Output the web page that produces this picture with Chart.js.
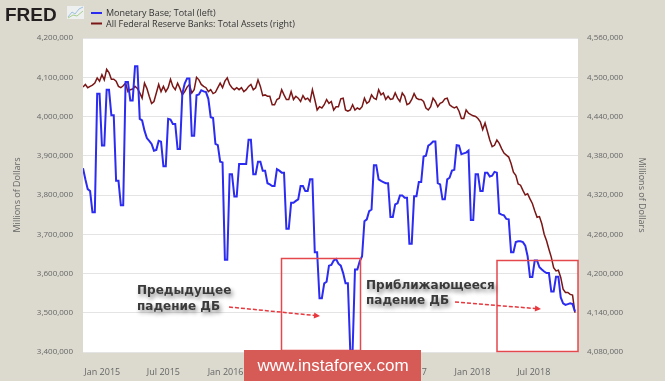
<!DOCTYPE html>
<html>
<head>
<meta charset="utf-8">
<script src="https://cdn.jsdelivr.net/npm/chart.js@4.4.0/dist/chart.umd.min.js"></script>
<style>
  body { margin: 0; background: #dcdacf; }
  #wrap { width: 665px; height: 381px; }
</style>
</head>
<body>
<div id="wrap"><canvas id="fredChart" width="665" height="381"></canvas></div>
<script>
// weekly observations, week 0 = 2014-11-05
const startDate = '2014-11-05';

// Monetary Base; Total, billions of dollars (axis shows millions)
const baseValues = [
  3868, 3840, 3815, 3810, 3756, 3756, 4058, 4058, 3926, 3926,
  4068, 4068, 4003, 4003, 3836, 3836, 3774, 3774, 4088, 4088,
  4041, 4041, 4128, 4128, 3994, 3990, 3964, 3945, 3938, 3930,
  3913, 3915, 3938, 3936, 3873, 3873, 3994, 3992, 3981, 3981,
  3917, 3917, 4058, 4084, 4097, 4097, 3951, 3951, 4054, 4056,
  4067, 4064, 4062, 4045, 3998, 3996, 3930, 3927, 3885, 3883,
  3635, 3635, 3853, 3853, 3796, 3796, 3879, 3879, 3879, 3879,
  3941, 3941, 3853, 3853, 3885, 3885, 3862, 3862, 3830, 3827,
  3823, 3823, 3866, 3862, 3857, 3857, 3714, 3714, 3780, 3780,
  3785, 3789, 3823, 3823, 3810, 3810, 3840, 3840, 3654, 3654,
  3537, 3537, 3575, 3579, 3620, 3622, 3633, 3637, 3625, 3620,
  3601, 3575, 3575, 3404, 3404, 3610, 3610, 3631, 3644, 3733,
  3738, 3759, 3763, 3876, 3876, 3840, 3836, 3833, 3830, 3830,
  3744, 3744, 3776, 3779, 3799, 3799, 3793, 3793, 3676, 3676,
  3797, 3797, 3833, 3833, 3898, 3900, 3926, 3930, 3936, 3936,
  3830, 3827, 3789, 3789, 3840, 3844, 3862, 3864, 3927, 3926,
  3904, 3906, 3908, 3913, 3736, 3736, 3853, 3853, 3810, 3810,
  3857, 3857, 3847, 3849, 3859, 3857, 3753, 3750, 3748, 3739,
  3738, 3654, 3654, 3680, 3682, 3682, 3680, 3671, 3644, 3591,
  3591, 3633, 3633, 3616, 3610, 3605, 3601, 3601, 3554, 3554,
  3592, 3592, 3539, 3524, 3520, 3522, 3524, 3522, 3503
];

// All Federal Reserve Banks: Total Assets, billions of dollars
const assetsValues = [
  4485, 4489, 4484, 4486, 4488, 4491, 4499, 4494, 4504, 4496,
  4512, 4507, 4497, 4497, 4494, 4486, 4484, 4487, 4491, 4478,
  4481, 4482, 4486, 4483, 4476, 4468, 4491, 4483, 4471, 4460,
  4463, 4476, 4489, 4478, 4486, 4478, 4484, 4497, 4486, 4481,
  4491, 4483, 4473, 4478, 4485, 4489, 4476, 4481, 4500, 4496,
  4489, 4486, 4484, 4478, 4481, 4475, 4477, 4484, 4491, 4484,
  4494, 4499, 4489, 4484, 4481, 4484, 4481, 4484, 4478, 4481,
  4486, 4489, 4481, 4484, 4496, 4486, 4472, 4473, 4471, 4471,
  4458, 4458, 4466, 4468, 4481, 4473, 4466, 4466, 4478, 4466,
  4471, 4468, 4463, 4472, 4466, 4468, 4463, 4481, 4466, 4450,
  4455, 4453, 4458, 4466, 4460, 4463, 4450, 4455, 4455, 4467,
  4468, 4450, 4448, 4450, 4458, 4450, 4453, 4451, 4455, 4468,
  4460, 4463, 4473, 4468, 4466, 4481, 4473, 4476, 4466, 4471,
  4466, 4467, 4476, 4468, 4463, 4476, 4471, 4458, 4460, 4466,
  4475, 4468, 4466, 4466, 4463, 4453, 4450, 4455, 4468, 4463,
  4455, 4460, 4462, 4467, 4468, 4458, 4455, 4453, 4455, 4448,
  4437, 4437, 4450, 4445, 4443, 4441, 4440, 4437, 4432, 4420,
  4430, 4417, 4404, 4394, 4396, 4404, 4399, 4391, 4384, 4381,
  4378, 4368, 4355, 4350, 4337, 4335, 4327, 4320, 4322, 4314,
  4307, 4296, 4286, 4287, 4276, 4260, 4250, 4237, 4225, 4209,
  4204, 4205, 4194, 4176, 4171, 4171, 4168, 4167, 4140
];

const tickDates = ['2015-01-01', '2015-07-01', '2016-01-01', '2016-07-01',
                   '2017-01-01', '2017-07-01', '2018-01-01', '2018-07-01'];
const tickLabels = ['Jan 2015', 'Jul 2015', 'Jan 2016', 'Jul 2016',
                    'Jan 2017', 'Jul 2017', 'Jan 2018', 'Jul 2018'];

const seriesLabels = ['Monetary Base; Total (left)',
                      'All Federal Reserve Banks: Total Assets (right)'];

const weekMs = 7 * 864e5;
const toWeek = d => (Date.parse(d) - Date.parse(startDate)) / weekMs;
const fmt = v => v.toLocaleString('en-US');

const tickFont = { family: '"Open Sans"', size: 8 };
const titleFont = { family: '"Open Sans"', size: 9 };

// background, legend, logo, notes
const decor = {
    id: 'decor',
    beforeDraw(chart) {
        const { ctx, chartArea: a } = chart;
        ctx.save();
        ctx.fillStyle = '#dcdacf';
        ctx.fillRect(0, 0, chart.width, chart.height);
        ctx.fillStyle = '#ffffff';
        ctx.fillRect(a.left, a.top, a.right - a.left, a.bottom - a.top);
        ctx.restore();
    },
    afterDraw(chart) {
        const ctx = chart.ctx;
        ctx.save();

        // FRED logo
        ctx.fillStyle = '#231f20';
        ctx.font = 'bold 19px "Liberation Sans"';
        ctx.textBaseline = 'alphabetic';
        ctx.fillText('FRED', 5, 21);
        ctx.fillStyle = '#eef0f0';
        ctx.fillRect(67, 6, 17, 13);
        ctx.lineWidth = 1;
        ctx.strokeStyle = '#9cc0e0';
        ctx.beginPath();
        ctx.moveTo(68, 17); ctx.lineTo(72, 12); ctx.lineTo(75, 14); ctx.lineTo(79, 9); ctx.lineTo(83, 7);
        ctx.stroke();
        ctx.strokeStyle = '#a9cf8f';
        ctx.beginPath();
        ctx.moveTo(68, 18); ctx.lineTo(73, 15); ctx.lineTo(77, 16); ctx.lineTo(83, 11);
        ctx.stroke();

        // legend
        ctx.font = '9px "Open Sans"';
        ctx.textBaseline = 'middle';
        chart.data.datasets.forEach((ds, i) => {
            const y = 13 + i * 10.5;
            ctx.strokeStyle = ds.borderColor;
            ctx.lineWidth = 2;
            ctx.beginPath();
            ctx.moveTo(91, y);
            ctx.lineTo(102, y);
            ctx.stroke();
            ctx.fillStyle = '#333333';
            ctx.fillText(ds.label, 106, y + 0.5);
        });

        // highlight boxes
        ctx.strokeStyle = '#e4474c';
        ctx.lineWidth = 1.5;
        ctx.strokeRect(281.5, 258.5, 79, 92);
        ctx.strokeRect(497, 260.5, 81, 91);

        // notes with shadow
        ctx.font = 'bold 12px "DejaVu Sans"';
        ctx.textBaseline = 'middle';
        ctx.fillStyle = '#3a3a3a';
        ctx.shadowColor = 'rgba(0,0,0,0.45)';
        ctx.shadowBlur = 4;
        ctx.shadowOffsetX = 2;
        ctx.shadowOffsetY = 3;
        ctx.fillText('Предыдущее', 137, 291);
        ctx.fillText('падение ДБ', 137, 306.5);
        ctx.fillText('Приближающееся', 366, 285.5);
        ctx.fillText('падение ДБ', 366, 301);
        ctx.shadowColor = 'transparent';

        arrow(ctx, 229, 307, 320, 316);
        arrow(ctx, 455, 302, 541, 309);

        // watermark
        ctx.fillStyle = '#d65a56';
        ctx.fillRect(244, 350, 177, 31);
        ctx.fillStyle = '#ffffff';
        ctx.font = '17px "Liberation Sans"';
        ctx.textAlign = 'center';
        ctx.fillText('www.instaforex.com', 333, 366);

        ctx.restore();
    }
};

function arrow(ctx, x1, y1, x2, y2) {
    const ang = Math.atan2(y2 - y1, x2 - x1);
    ctx.save();
    ctx.strokeStyle = '#e8373d';
    ctx.fillStyle = '#e8373d';
    ctx.lineWidth = 1.5;
    ctx.setLineDash([4, 2]);
    ctx.beginPath();
    ctx.moveTo(x1, y1);
    ctx.lineTo(x2 - 4 * Math.cos(ang), y2 - 4 * Math.sin(ang));
    ctx.stroke();
    ctx.setLineDash([]);
    ctx.translate(x2, y2);
    ctx.rotate(ang);
    ctx.beginPath();
    ctx.moveTo(0, 0);
    ctx.lineTo(-6, -3);
    ctx.lineTo(-6, 3);
    ctx.closePath();
    ctx.fill();
    ctx.restore();
}

const ctx = document.getElementById('fredChart').getContext('2d');
const fredChart = new Chart(ctx, {
    type: 'line',
    data: {
        datasets: [{
            label: seriesLabels[0],
            data: baseValues.map((v, i) => ({ x: i, y: v * 1000 })),
            yAxisID: 'y',
            borderColor: '#2b2bf2',
            borderWidth: 2,
            pointRadius: 0,
            tension: 0
        }, {
            label: seriesLabels[1],
            data: assetsValues.map((v, i) => ({ x: i, y: v * 1000 })),
            yAxisID: 'y1',
            borderColor: '#7a1616',
            borderWidth: 1.5,
            pointRadius: 0,
            tension: 0
        }]
    },
    options: {
        responsive: false,
        animation: false,
        devicePixelRatio: 1,
        layout: { padding: { top: 38, left: 0, right: 0, bottom: 0 } },
        plugins: {
            legend: { display: false },
            tooltip: { enabled: false }
        },
        scales: {
            x: {
                type: 'linear',
                min: 0,
                max: 209.3,
                grid: { display: false },
                border: { display: false },
                afterBuildTicks: scale => {
                    scale.ticks = tickDates.map(d => ({ value: toWeek(d) }));
                },
                afterFit: scale => { scale.height = 29; },
                ticks: {
                    autoSkip: false,
                    maxRotation: 0,
                    padding: 7,
                    color: '#666666',
                    font: { family: '"Open Sans"', size: 9 },
                    callback: (v, i) => tickLabels[i]
                }
            },
            y: {
                position: 'left',
                min: 3400000,
                max: 4200000,
                grid: { color: '#e4e4e4', drawTicks: false },
                border: { display: false },
                afterFit: scale => { scale.width = 83; },
                ticks: {
                    stepSize: 100000,
                    padding: 10,
                    color: '#666666',
                    font: tickFont,
                    callback: v => fmt(v)
                },
                title: {
                    display: true,
                    text: 'Millions of Dollars',
                    color: '#666666',
                    font: titleFont,
                    padding: { top: 12, bottom: 0 }
                }
            },
            y1: {
                position: 'right',
                min: 4080000,
                max: 4560000,
                grid: { display: false, drawTicks: false },
                border: { display: false },
                afterFit: scale => { scale.width = 87; },
                ticks: {
                    stepSize: 60000,
                    padding: 9,
                    color: '#666666',
                    font: tickFont,
                    callback: v => fmt(v)
                },
                title: {
                    display: true,
                    text: 'Millions of Dollars',
                    color: '#666666',
                    font: titleFont,
                    padding: { top: 17.6, bottom: 0 }
                }
            }
        }
    },
    plugins: [decor]
});
</script>
</body>
</html>
